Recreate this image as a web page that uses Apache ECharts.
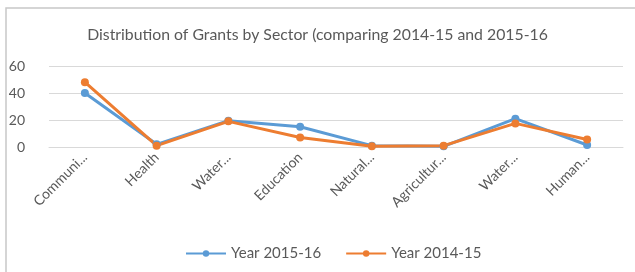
<!DOCTYPE html>
<html>
<head>
<meta charset="utf-8">
<script src="https://cdn.jsdelivr.net/npm/echarts@6/dist/echarts.min.js"></script>
<style>
  html, body { margin: 0; padding: 0; background: #fff; }
  #main { width: 635px; height: 272px; }
</style>
</head>
<body>
<div id="main"></div>
<script>
// sectors (labels as shown, truncated)
var sectors = ['Communi...', 'Health', 'Water...', 'Education', 'Natural...', 'Agricultur...', 'Water...', 'Human...'];
var year1516 = [40, 2, 19.5, 15, 1, 0.5, 21, 1.5];
var year1415 = [48, 1, 19, 7, 0.5, 1, 17.5, 5.5];
var yTicks = [0, 20, 40, 60];

var chart = echarts.init(document.getElementById('main'));
var font = 'Lato, "Open Sans", sans-serif';

chart.setOption({
  animation: false,
  textStyle: { fontFamily: font },
  graphic: [{
    type: 'rect',
    shape: { x: 6, y: 8, width: 640, height: 280 },
    style: { fill: 'none', stroke: '#c8c8c8', lineWidth: 1.5 }
  }],
  title: {
    text: 'Distribution of Grants by Sector (comparing 2014-15 and 2015-16',
    left: 'center',
    top: 22,
    textStyle: { fontSize: 15.8, fontWeight: 'normal', color: '#595959', fontFamily: font }
  },
  legend: {
    bottom: 6,
    left: 180,
    itemWidth: 40,
    itemHeight: 8,
    itemGap: 24,
    textStyle: { fontSize: 15, color: '#595959', fontFamily: font },
    data: ['Year 2015-16', 'Year 2014-15']
  },
  grid: { left: 49, right: 12, top: 66, bottom: 125 },
  xAxis: {
    type: 'category',
    data: sectors,
    axisLine: { lineStyle: { color: '#d9d9d9' } },
    axisTick: { show: false },
    axisLabel: { rotate: 45, color: '#595959', fontSize: 14, margin: 8, interval: 0, fontFamily: font }
  },
  yAxis: {
    type: 'value',
    min: yTicks[0],
    max: yTicks[yTicks.length - 1],
    interval: 20,
    axisLine: { show: false },
    axisTick: { show: false },
    axisLabel: { color: '#595959', fontSize: 14, margin: 24, fontFamily: font },
    splitLine: { lineStyle: { color: '#d9d9d9' } }
  },
  series: [
    {
      name: 'Year 2015-16',
      type: 'line',
      data: year1516,
      symbol: 'circle',
      symbolSize: 8,
      lineStyle: { width: 3, color: '#5B9BD5' },
      itemStyle: { color: '#5B9BD5' }
    },
    {
      name: 'Year 2014-15',
      type: 'line',
      data: year1415,
      symbol: 'circle',
      symbolSize: 8,
      lineStyle: { width: 3, color: '#ED7D31' },
      itemStyle: { color: '#ED7D31' }
    }
  ]
});
</script>
</body>
</html>
